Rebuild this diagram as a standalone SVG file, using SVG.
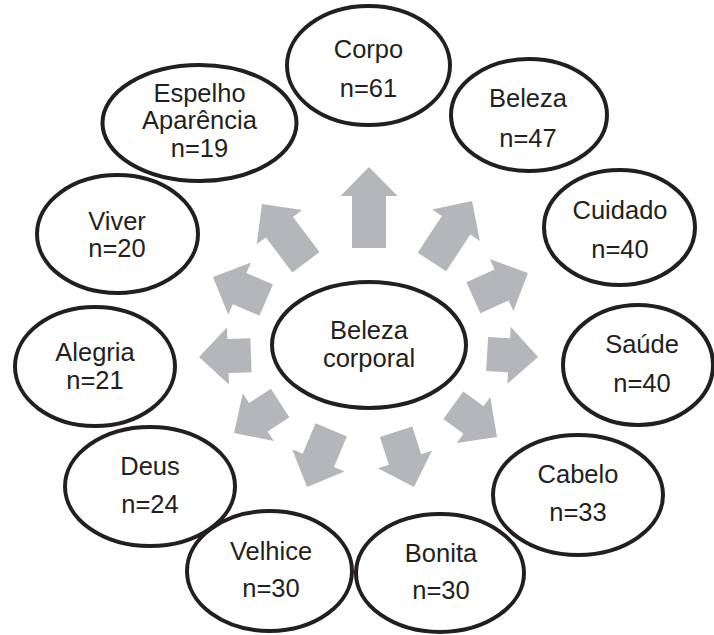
<svg xmlns="http://www.w3.org/2000/svg" width="714" height="635" viewBox="0 0 714 635">
<style>
.node ellipse{fill:#fff;stroke:#231f20;stroke-width:4}
.node text{font-family:"Liberation Sans",Arial,sans-serif;font-size:25.5px;fill:#231f20;text-anchor:middle}
.arr polygon{fill:#b5b6ba}
</style>
<rect width="714" height="635" fill="#fff"/>
<g id="connectors" class="arr">
<polygon transform="translate(369,167) rotate(0)" points="0,0 28.5,29 17,29 17,81 -17,81 -17,29 -28.5,29"/>
<polygon transform="translate(472,201) rotate(33.3)" points="0,0 28.5,29 17,29 17,73 -17,73 -17,29 -28.5,29"/>
<polygon transform="translate(528,273) rotate(65.6)" points="0,0 28.5,29 17,29 17,60 -17,60 -17,29 -28.5,29"/>
<polygon transform="translate(538,357) rotate(93.4)" points="0,0 28.5,29 17,29 17,51 -17,51 -17,29 -28.5,29"/>
<polygon transform="translate(497,437) rotate(126)" points="0,0 28.5,29 17,29 17,54 -17,54 -17,29 -28.5,29"/>
<polygon transform="translate(414,487) rotate(162)" points="0,0 28.5,29 17,29 17,58 -17,58 -17,29 -28.5,29"/>
<polygon transform="translate(307,487) rotate(-157)" points="0,0 28.5,29 17,29 17,62 -17,62 -17,29 -28.5,29"/>
<polygon transform="translate(234,433) rotate(-123)" points="0,0 28.5,29 17,29 17,55 -17,55 -17,29 -28.5,29"/>
<polygon transform="translate(199,357) rotate(-92)" points="0,0 28.5,29 17,29 17,52 -17,52 -17,29 -28.5,29"/>
<polygon transform="translate(213,277) rotate(-66.5)" points="0,0 28.5,29 17,29 17,58 -17,58 -17,29 -28.5,29"/>
<polygon transform="translate(262,204) rotate(-37)" points="0,0 28.5,29 17,29 17,73 -17,73 -17,29 -28.5,29"/>
</g>
<g id="center" class="node">
<ellipse cx="369" cy="345" rx="97" ry="63"/>
<text x="369" y="339">Beleza</text>
<text x="369" y="367">corporal</text>
</g>
<g id="corpo" class="node">
<ellipse cx="368.5" cy="65.5" rx="81.5" ry="59.5"/>
<text x="368.5" y="58">Corpo</text>
<text x="368.5" y="97">n=61</text>
</g>
<g id="beleza" class="node">
<ellipse cx="529" cy="115" rx="78" ry="56"/>
<text x="528" y="107">Beleza</text>
<text x="528" y="147">n=47</text>
</g>
<g id="cuidado" class="node">
<ellipse cx="619.5" cy="227.5" rx="75.5" ry="57.5"/>
<text x="620" y="219">Cuidado</text>
<text x="620" y="258">n=40</text>
</g>
<g id="saude" class="node">
<ellipse cx="638" cy="365" rx="75" ry="60"/>
<text x="642" y="353">Saúde</text>
<text x="642" y="392">n=40</text>
</g>
<g id="cabelo" class="node">
<ellipse cx="578" cy="495" rx="85" ry="60"/>
<text x="578" y="483">Cabelo</text>
<text x="578" y="521">n=33</text>
</g>
<g id="bonita" class="node">
<ellipse cx="440" cy="573" rx="84" ry="59"/>
<text x="441" y="562">Bonita</text>
<text x="441" y="599">n=30</text>
</g>
<g id="velhice" class="node">
<ellipse cx="269.5" cy="571" rx="82.5" ry="60"/>
<text x="271" y="560">Velhice</text>
<text x="271" y="597">n=30</text>
</g>
<g id="deus" class="node">
<ellipse cx="150" cy="486.5" rx="85" ry="59.5"/>
<text x="150" y="475">Deus</text>
<text x="150" y="513">n=24</text>
</g>
<g id="alegria" class="node">
<ellipse cx="95" cy="366.5" rx="80" ry="59.5"/>
<text x="95" y="361">Alegria</text>
<text x="95" y="389">n=21</text>
</g>
<g id="viver" class="node">
<ellipse cx="117.5" cy="234" rx="80.5" ry="59"/>
<text x="117" y="230">Viver</text>
<text x="117" y="257">n=20</text>
</g>
<g id="espelho" class="node">
<ellipse cx="199.5" cy="123" rx="97" ry="58"/>
<text x="199.5" y="102">Espelho</text>
<text x="199.5" y="129">Aparência</text>
<text x="199.5" y="157">n=19</text>
</g>
</svg>
